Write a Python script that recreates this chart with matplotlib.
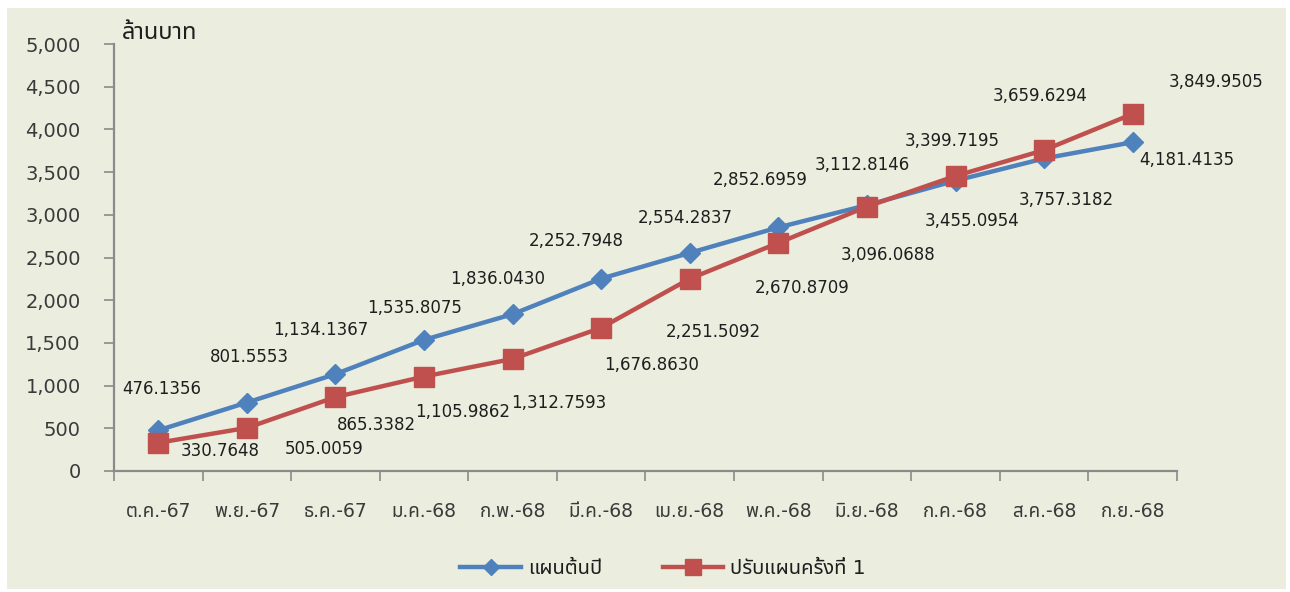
import matplotlib
matplotlib.use('Agg')
import matplotlib.pyplot as plt
from matplotlib.patches import Rectangle
from matplotlib.ticker import FuncFormatter

plt.rcParams['font.family'] = ['DejaVu Sans', 'Noto Sans Thai']

# data
months = ['ต.ค.-67', 'พ.ย.-67', 'ธ.ค.-67', 'ม.ค.-68', 'ก.พ.-68', 'มี.ค.-68',
          'เม.ย.-68', 'พ.ค.-68', 'มิ.ย.-68', 'ก.ค.-68', 'ส.ค.-68', 'ก.ย.-68']
plan = [476.1356, 801.5553, 1134.1367, 1535.8075, 1836.0430, 2252.7948,
        2554.2837, 2852.6959, 3112.8146, 3399.7195, 3659.6294, 3849.9505]
revised = [330.7648, 505.0059, 865.3382, 1105.9862, 1312.7593, 1676.8630,
           2251.5092, 2670.8709, 3096.0688, 3455.0954, 3757.3182, 4181.4135]
series_names = ['แผนต้นปี', 'ปรับแผนครั้งที่ 1']

# label offsets in pixels (dx, dy up)
plan_off = [(3, 41), (3, 46), (-15, 44), (-9, 32), (-15, 35), (-25, 38),
            (-5, 35), (-18, 47), (-5, 40), (-3, 40), (-4, 62), (83, 60)]
rev_off = [(62, -8), (77, -21), (41, -28), (39, -35), (46, -44), (50, -37),
           (24, -53), (24, -45), (21, -48), (17, -45), (22, -50), (54, -46)]

blue = '#4F81BD'
red = '#C0504D'
bg = '#EBEEDF'
axis_col = '#8A8A8A'
txt = '#1E1E1E'

fig = plt.figure(figsize=(12.9, 5.92), dpi=100, facecolor='white')
fig.patches.append(Rectangle((7 / 1290, 3 / 592), 1279 / 1290, 581 / 592,
                             transform=fig.transFigure, facecolor=bg,
                             edgecolor='none', zorder=-1))

ax = fig.add_axes([114 / 1290, 121 / 592, 1063 / 1290, 427 / 592])
ax.set_facecolor('none')

x = list(range(len(months)))
l1, = ax.plot(x, plan, color=blue, lw=3.2, marker='D', ms=10, mec=blue,
              zorder=3, clip_on=False, label=series_names[0])
l2, = ax.plot(x, revised, color=red, lw=3.2, marker='s', ms=15, mec=red,
              zorder=4, clip_on=False, label=series_names[1])

for i in x:
    ax.annotate(f'{plan[i]:,.4f}', (i, plan[i]), xytext=plan_off[i],
                textcoords='offset pixels', ha='center', va='center',
                fontsize=12, color=txt, zorder=5)
    ax.annotate(f'{revised[i]:,.4f}', (i, revised[i]), xytext=rev_off[i],
                textcoords='offset pixels', ha='center', va='center',
                fontsize=12, color=txt, zorder=5)

ax.set_xlim(-0.5, len(months) - 0.5)
ax.set_ylim(0, 5000)
ax.set_yticks(range(0, 5001, 500))
ax.yaxis.set_major_formatter(FuncFormatter(lambda v, p: f'{int(v):,}'))
ax.set_xticks([i - 0.5 for i in range(len(months) + 1)])
ax.set_xticklabels([])
ax.set_xticks(x, minor=True)
ax.set_xticklabels(months, minor=True)

for s in ['top', 'right']:
    ax.spines[s].set_visible(False)
for s in ['left', 'bottom']:
    ax.spines[s].set_color(axis_col)
    ax.spines[s].set_linewidth(1.6)

ax.tick_params(axis='y', which='major', direction='out', length=7, width=1.2,
               color=axis_col, labelsize=14, labelcolor='#3A3A3A', pad=17)
ax.tick_params(axis='x', which='major', direction='out', length=7, width=1.2,
               color=axis_col)
ax.tick_params(axis='x', which='minor', length=0, labelsize=13.5,
               labelcolor='#3A3A3A', pad=22)

ax.text(122 / 1290, 1 - 39 / 592, 'ล้านบาท', transform=fig.transFigure,
        fontsize=17, color=txt, ha='left', va='baseline')

fig.legend(handles=[l1, l2], loc='center', bbox_to_anchor=(663 / 1290, 1 - 569 / 592),
           ncol=2, frameon=False, fontsize=14.5, handlelength=3.0,
           columnspacing=3.0, handletextpad=0.35, labelcolor=txt,
           markerscale=0.8)

fig.savefig('out.png', dpi=100, facecolor='white')
